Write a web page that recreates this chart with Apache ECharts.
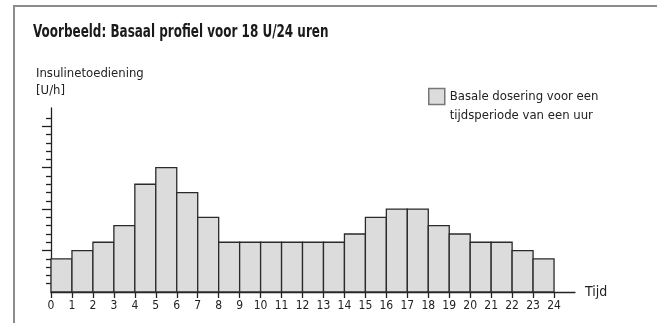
<!DOCTYPE html>
<html>
<head>
<meta charset="utf-8">
<script src="https://cdn.jsdelivr.net/npm/echarts@6/dist/echarts.min.js"></script>
<style>
  html, body { margin: 0; padding: 0; background: #fff; }
  #chart { width: 657px; height: 323px; }
</style>
</head>
<body>
<div id="chart"></div>
<script>
// Basal insulin profile: one bar per hour, 18 U over 24 hours
const hourStarts = [0, 1, 2, 3, 4, 5, 6, 7, 8, 9, 10, 11, 12, 13, 14, 15, 16, 17, 18, 19, 20, 21, 22, 23];
const basalRate = [0.4, 0.5, 0.6, 0.8, 1.3, 1.5, 1.2, 0.9, 0.6, 0.6, 0.6, 0.6, 0.6, 0.6, 0.7, 0.9, 1.0, 1.0, 0.8, 0.7, 0.6, 0.6, 0.5, 0.4];
const hourTicks = [0, 1, 2, 3, 4, 5, 6, 7, 8, 9, 10, 11, 12, 13, 14, 15, 16, 17, 18, 19, 20, 21, 22, 23, 24];
const rateMinorTicks = [0.1, 0.2, 0.3, 0.4, 0.6, 0.7, 0.8, 0.9, 1.1, 1.2, 1.3, 1.4, 1.6, 1.7, 1.8, 1.9, 2.1];
const rateMajorTicks = [0.5, 1.0, 1.5, 2.0];
const seriesName = 'Basale dosering voor een\ntijdsperiode van een uur';
const chartTitle = 'Voorbeeld: Basaal profiel voor 18 U/24 uren';

const FONT = "'Liberation Sans Narrow', 'DejaVu Sans Condensed', 'Liberation Sans', sans-serif";
const INK = '#222';

const chart = echarts.init(document.getElementById('chart'), null, { renderer: 'canvas' });

const yBase = {
  type: 'value', min: 0, max: 2.22, position: 'left',
  splitLine: { show: false },
  axisLabel: { show: false }
};

chart.setOption({
  animation: false,
  textStyle: { fontFamily: FONT },
  title: {
    text: 'Insulinetoediening\n[U/h]',
    left: 31, top: 60,
    textStyle: { fontFamily: FONT, fontSize: 13, fontWeight: 'normal', color: '#222', lineHeight: 17 }
  },
  legend: {
    left: 423, top: 63,
    itemWidth: 16, itemHeight: 16, itemGap: 0,
    icon: 'rect',
    selectedMode: false,
    itemStyle: { color: '#dcdcdc', borderColor: '#777', borderWidth: 1.5 },
    // blank leading line so the first text line sits level with the swatch
    formatter: function (name) { return ' \n' + name; },
    textStyle: { fontFamily: FONT, fontSize: 13, color: '#222', lineHeight: 19 },
    data: [seriesName]
  },
  grid: { left: 51, right: 82, top: 108, bottom: 31, containLabel: false },
  xAxis: {
    type: 'value', min: 0, max: 25,
    splitLine: { show: false },
    axisLine: { show: true, lineStyle: { color: INK, width: 1.3 } },
    axisTick: { show: true, customValues: hourTicks, length: 6, lineStyle: { color: INK, width: 1.3 } },
    axisLabel: { customValues: hourTicks, color: '#222', fontSize: 12, margin: 8, fontFamily: FONT },
    name: 'Tijd', nameLocation: 'end', nameGap: 10,
    nameTextStyle: { fontFamily: FONT, fontSize: 14, color: '#222', verticalAlign: 'middle' }
  },
  yAxis: [
    Object.assign({}, yBase, {
      axisLine: { show: true, lineStyle: { color: INK, width: 1.3 } },
      axisTick: { show: true, customValues: rateMinorTicks, length: 5, lineStyle: { color: INK, width: 1.3 } }
    }),
    Object.assign({}, yBase, {
      axisLine: { show: false },
      axisTick: { show: true, customValues: rateMajorTicks, length: 9, lineStyle: { color: INK, width: 1.3 } }
    })
  ],
  graphic: [
    // frame lines along the top and left of the panel
    { type: 'line', shape: { x1: 14, y1: 6, x2: 657, y2: 6 }, style: { stroke: '#8c8c8c', lineWidth: 2 }, silent: true },
    { type: 'line', shape: { x1: 14, y1: 5, x2: 14, y2: 323 }, style: { stroke: '#8c8c8c', lineWidth: 2 }, silent: true },
    // heading, set in a narrowed bold face
    {
      type: 'text', x: 33, y: 32, scaleX: 0.74, originX: 0, originY: 0,
      style: {
        text: chartTitle, fill: '#1a1a1a',
        font: "bold 18px 'DejaVu Sans Condensed', 'Liberation Sans', sans-serif",
        verticalAlign: 'middle', align: 'left'
      },
      silent: true
    }
  ],
  series: [
    {
      name: seriesName,
      type: 'custom',
      xAxisIndex: 0, yAxisIndex: 0,
      itemStyle: { color: '#dcdcdc', borderColor: '#666' },
      data: hourStarts.map((h, i) => [h, basalRate[i]]),
      encode: { x: 0, y: 1 },
      renderItem: function (params, api) {
        const start = api.value(0);
        const topLeft = api.coord([start, api.value(1)]);
        const bottomRight = api.coord([start + 1, 0]);
        return {
          type: 'rect',
          shape: {
            x: topLeft[0], y: topLeft[1],
            width: bottomRight[0] - topLeft[0],
            height: bottomRight[1] - topLeft[1]
          },
          style: { fill: '#dcdcdc', stroke: '#2a2a2a', lineWidth: 1.3 }
        };
      }
    }
  ]
});
</script>
</body>
</html>
